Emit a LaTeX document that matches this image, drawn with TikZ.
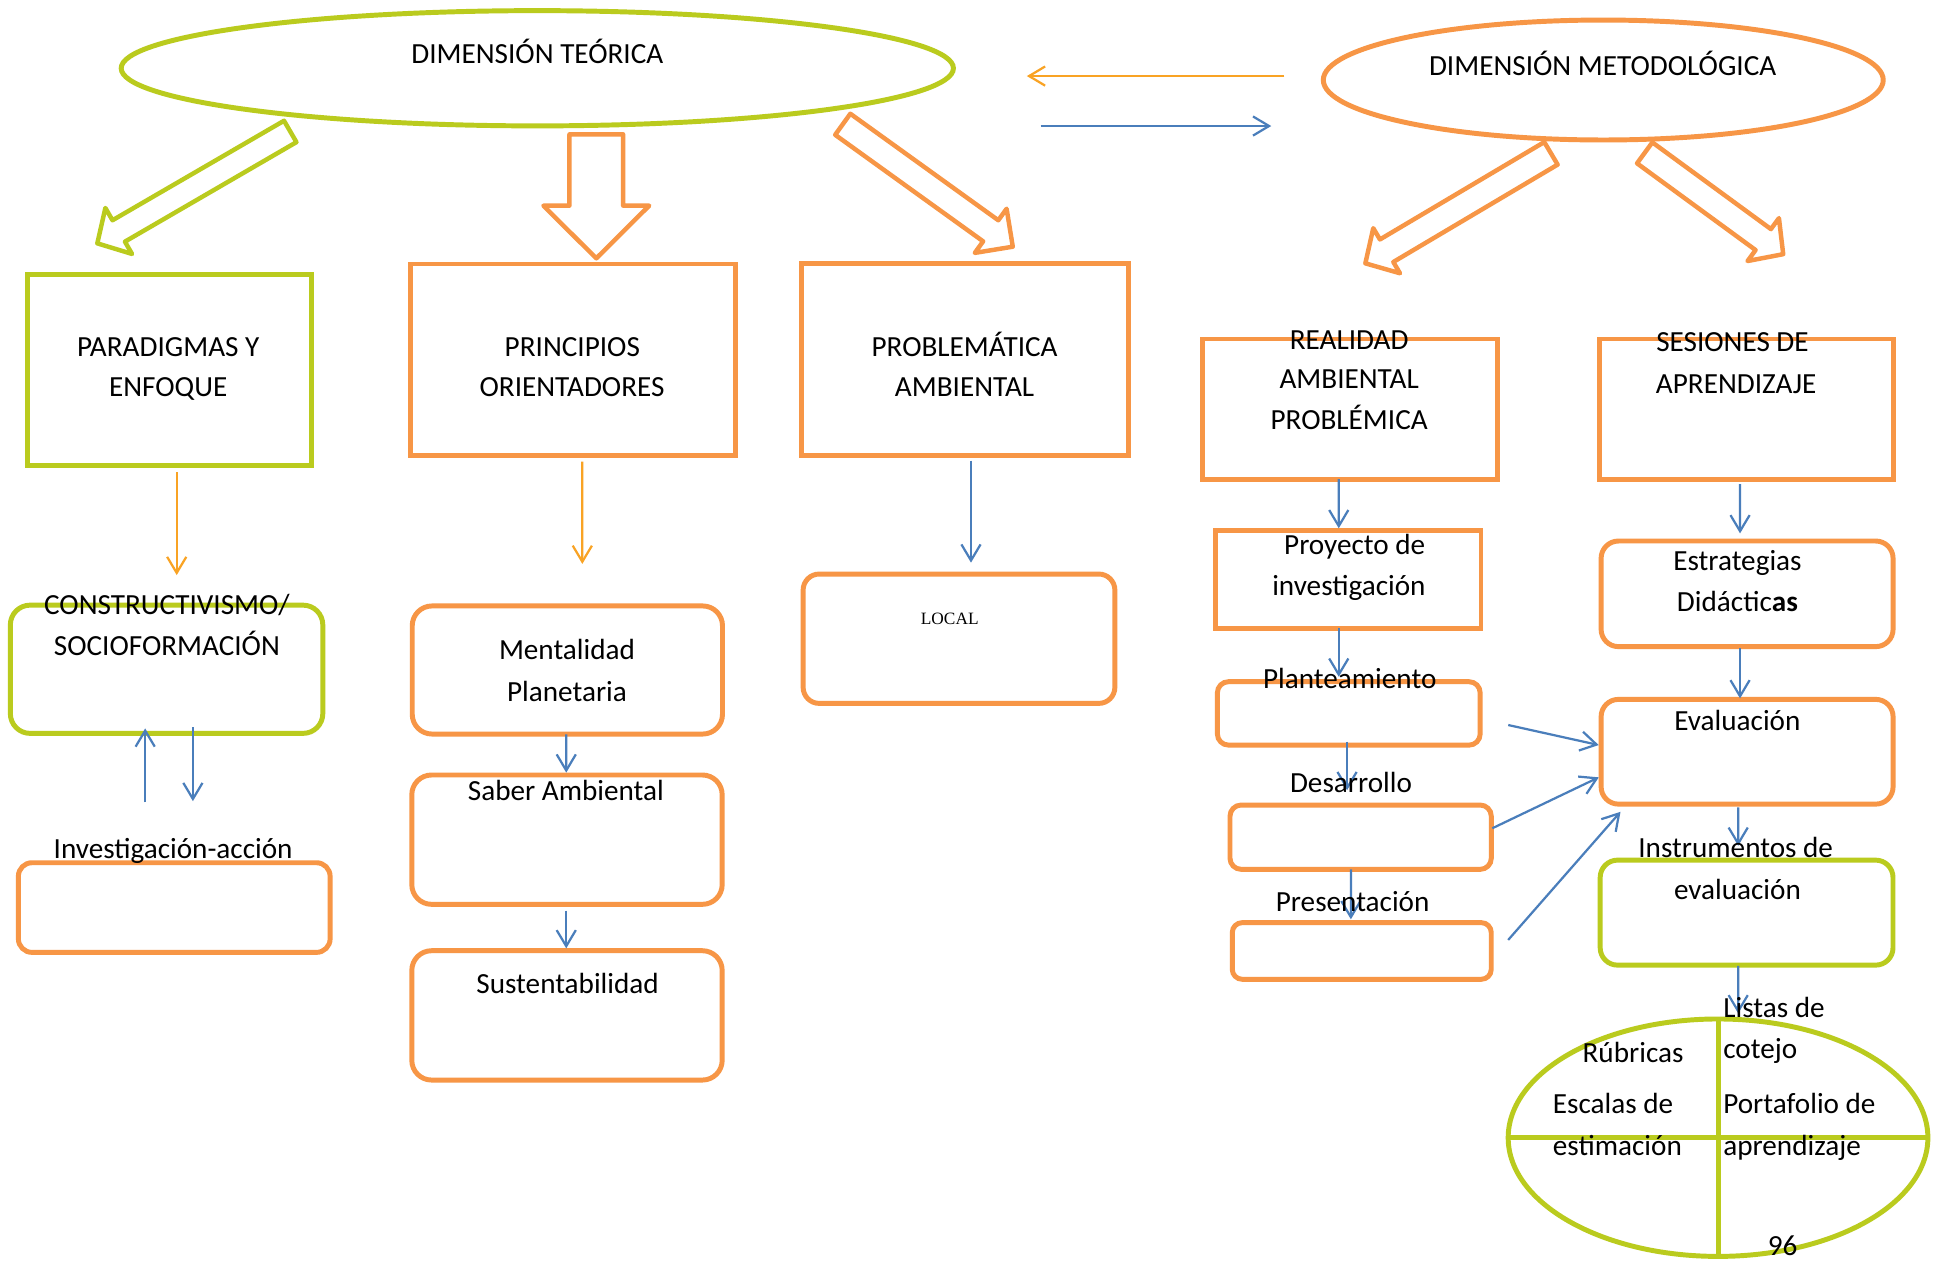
\documentclass[tikz,border=0pt]{standalone}
\usepackage{fontspec}
\setmainfont{Carlito}
\newfontfamily\timesface{Liberation Serif}
\usetikzlibrary{shapes.geometric,arrows.meta,calc}

\definecolor{mapgreen}{RGB}{186,203,30}
\definecolor{maporange}{RGB}{247,150,70}
\definecolor{mapamber}{RGB}{249,163,36}
\definecolor{mapblue}{RGB}{74,126,187}

% hollow block arrow: style, tail, tip, shaft half width, head half width, head length
\newcommand\hollowarrow[6]{%
  \coordinate (hA) at #2;
  \coordinate (hB) at #3;
  \coordinate (hH) at ($(hB)!#6!(hA)$);
  \draw[#1] ($(hA)!#4!90:(hB)$) -- ($(hH)!#4!-90:(hA)$) -- ($(hH)!#5!-90:(hA)$)
    -- (hB) -- ($(hH)!#5!90:(hA)$) -- ($(hH)!#4!90:(hA)$) -- ($(hA)!#4!-90:(hB)$) -- cycle;}

\begin{document}
\begin{tikzpicture}[x=1pt,y=-1pt,
  sqbox/.style={draw=#1,line width=4pt,outer sep=0pt,inner sep=0pt},
  rbox/.style={sqbox=#1,rounded corners=16pt},
  ovalbox/.style={ellipse,draw=#1,line width=4pt,outer sep=0pt,inner sep=0pt},
  txt/.style={anchor=base,inner sep=0pt,font=\fontsize{23.6}{33}\selectfont},
  link/.style={draw=#1,line width=1.8pt,-{Straight Barb[length=13pt,width=15.5pt]}},
  hollow/.style={draw=#1,line width=3.6pt,line join=round},
]
\useasboundingbox[fill=white] (0,0) rectangle (1568,1019.7);

% ---- the two dimensions
\node[ovalbox=mapgreen,minimum width=673pt,minimum height=93.2pt] (teo) at (434.5,55.2) {};
\node[ovalbox=maporange,minimum width=452.8pt,minimum height=97pt] (met) at (1296.5,64.7) {};

% ---- first level boxes
\node[sqbox=mapgreen,minimum width=230.1pt,minimum height=155pt] (para) at (137,299.1) {};
\node[sqbox=maporange,minimum width=262.9pt,minimum height=155.2pt] (princ) at (463.5,291.1) {};
\node[sqbox=maporange,minimum width=264pt,minimum height=155pt] (probl) at (780.2,290.5) {};
\node[sqbox=maporange,minimum width=238pt,minimum height=113.3pt] (real) at (1091.6,330.8) {};
\node[sqbox=maporange,minimum width=237.3pt,minimum height=113.3pt] (ses) at (1412.2,330.8) {};

% ---- lower boxes
\node[rbox=mapgreen,minimum width=252.7pt,minimum height=103.7pt] (constr) at (134.7,541.2) {};
\node[rbox=maporange,rounded corners=11pt,minimum width=252.1pt,minimum height=72.5pt] (inv) at (140.9,733.9) {};
\node[rbox=maporange,minimum width=250.9pt,minimum height=103.6pt] (ment) at (458.8,541.8) {};
\node[rbox=maporange,minimum width=251pt,minimum height=104.6pt] (saber) at (458.5,679) {};
\node[rbox=maporange,minimum width=251pt,minimum height=104.6pt] (sust) at (458.5,821.1) {};
\node[rbox=maporange,rounded corners=13pt,minimum width=252.1pt,minimum height=104.6pt] (local) at (775.5,516.5) {};
\node[sqbox=maporange,minimum width=214.8pt,minimum height=79pt] (proy) at (1090.2,468.6) {};
\node[rbox=maporange,rounded corners=9pt,minimum width=212.5pt,minimum height=51.3pt] (plan) at (1090.7,576.9) {};
\node[rbox=maporange,rounded corners=9pt,minimum width=211.3pt,minimum height=52pt] (desa) at (1100.3,677) {};
\node[rbox=maporange,rounded corners=8pt,minimum width=209.4pt,minimum height=45.8pt] (pres) at (1101.2,769) {};
\node[rbox=maporange,rounded corners=14pt,minimum width=236.1pt,minimum height=85.4pt] (estr) at (1412.8,480.2) {};
\node[rbox=maporange,rounded corners=14pt,minimum width=236.1pt,minimum height=84.7pt] (eval) at (1412.8,607.9) {};
\node[rbox=mapgreen,rounded corners=14pt,minimum width=236.8pt,minimum height=84.9pt] (inst) at (1412.4,738) {};

% ---- quartered oval of instruments
\node[ovalbox=mapgreen,minimum width=339.4pt,minimum height=192pt] (eva) at (1389.3,920) {};
\draw[mapgreen,line width=4pt] (eva.north) -- (eva.south);
\draw[mapgreen,line width=4pt] (eva.west) -- (eva.east);

% ---- hollow block arrows
\hollowarrow{hollow=mapgreen}{($(teo.south)+(-199.8,4.5)$)}{($(para.north)+(-58.3,-24.8)$)}{10pt}{21.5pt}{20pt}
\hollowarrow{hollow=maporange}{($(teo.south)+(47.7,6.8)$)}{($(princ.north)+(18.7,-4.6)$)}{21.7pt}{42.8pt}{42.6pt}
\hollowarrow{hollow=maporange}{($(teo.south)+(247,-1.3)$)}{($(probl.north)+(38.8,-13.5)$)}{10.5pt}{22pt}{22pt}
\hollowarrow{hollow=maporange}{($(met.south)+(-42.3,10.8)$)}{($(real.north)+(12.5,-61.2)$)}{10.6pt}{21.2pt}{20pt}
\hollowarrow{hollow=maporange}{($(met.south)+(33.5,10.4)$)}{($(ses.north)+(29.8,-68.6)$)}{10.5pt}{21.5pt}{20pt}

% ---- links between the dimensions
\draw[link=mapamber] ($(met.west)+(-31.5,-3.2)$) -- ($(teo.east)+(59.4,6.3)$);
\draw[link=mapblue] ($(teo.east)+(70.6,46.7)$) -- ($(met.west)+(-42.1,37.2)$);

% ---- thin connectors
\draw[link=mapamber] ($(para.south)+(5.9,5.4)$) -- ($(constr.north)+(8.2,-24.3)$);
\draw[link=mapamber] ($(princ.south)+(7.4,4.6)$) -- ($(ment.north)+(12.1,-34)$);
\draw[link=mapblue] ($(probl.south)+(5,4.5)$) -- ($(local.north)+(9.7,-9.2)$);
\draw[link=mapblue] ($(inv.north)+(-23.5,-48.8)$) -- ($(constr.south)+(-17.3,-4)$);
\draw[link=mapblue] ($(constr.south)+(21.3,-4.8)$) -- ($(inv.north)+(15.1,-49.8)$);
\draw[link=mapblue] ($(ment.south)+(-0.9,0.2)$) -- ($(saber.north)+(-0.6,-1.9)$);
\draw[link=mapblue] ($(saber.south)+(-0.6,5.1)$) -- ($(sust.north)+(-0.6,-1.9)$);
\draw[link=mapblue] ($(real.south)+(-9,0)$) -- ($(proy.north)+(-7.6,-1.9)$);
\draw[link=mapblue] ($(proy.south)+(-7.6,0)$) -- ($(plan.north)+(-8.1,-4)$);
\draw[link=mapblue] ($(plan.south)+(-1.4,-2.8)$) -- ($(desa.north)+(-11,-12)$);
\draw[link=mapblue] ($(desa.south)+(-7.9,0)$) -- ($(pres.north)+(-8.8,-2.7)$);
\draw[link=mapblue] ($(ses.south)+(-5.1,4)$) -- ($(estr.north)+(-5.7,-6.2)$);
\draw[link=mapblue] ($(estr.south)+(-5.7,1.4)$) -- ($(eval.north)+(-5.7,-0.8)$);
\draw[link=mapblue] ($(eval.south)+(-7.2,2.7)$) -- ($(inst.north)+(-6.8,-11.6)$);
\draw[link=mapblue] ($(inst.south)+(-6.8,0.6)$) -- ($(eva.north)+(16.3,-4.5)$);
\draw[link=mapblue] ($(plan.east)+(22.7,9.4)$) -- ($(eval.west)+(-1.9,-5.4)$);
\draw[link=mapblue] ($(desa.east)+(0.8,-7.2)$) -- ($(eval.west)+(-1.9,20.7)$);
\draw[link=mapblue] ($(pres.east)+(13.7,-8.9)$) -- ($(eval.south west)+(15.7,6.2)$);

% ---- texts
\node[txt] (tteo) at (434.5,51.2) {DIMENSIÓN TEÓRICA};
\node[txt] (tmet) at (1296,60.7) {DIMENSIÓN METODOLÓGICA};
\node[txt] (tpara1) at (136,288) {PARADIGMAS Y};
\node[txt] (tpara2) at (136,320.8) {ENFOQUE};
\node[txt] (tprinc1) at (462.8,288) {PRINCIPIOS};
\node[txt] (tprinc2) at (462.6,320.8) {ORIENTADORES};
\node[txt] (tprobl1) at (780,288) {PROBLEMÁTICA};
\node[txt] (tprobl2) at (780,320.8) {AMBIENTAL};
\node[txt] (tconstr1) at (135,497) {CONSTRUCTIVISMO/};
\node[txt] (tconstr2) at (135,530) {SOCIOFORMACIÓN};
\node[txt] (tment1) at (458.5,533.7) {Mentalidad};
\node[txt] (tment2) at (458.5,567.4) {Planetaria};
\node[anchor=base,inner sep=0pt,font=\timesface\fontsize{14}{16}\selectfont] (tlocal) at (768,504.6) {LOCAL};
\node[txt] (tsaber) at (457.6,647) {Saber Ambiental};
\node[txt] (tsust) at (459,803.8) {Sustentabilidad};
\node[txt] (tinv) at (140,694) {Investigación-acción};
\node[txt] (treal1) at (1091,282.5) {REALIDAD};
\node[txt] (treal2) at (1091,314) {AMBIENTAL};
\node[txt] (treal3) at (1091,347.7) {PROBLÉMICA};
\node[txt] (tses1) at (1401,284.4) {SESIONES DE};
\node[txt] (tses2) at (1404,318) {APRENDIZAJE};
\node[txt] (tproy1) at (1095.5,448.8) {Proyecto de};
\node[txt] (tproy2) at (1090.8,481.7) {investigación};
\node[txt] (testr1) at (1405,461) {Estrategias};
\node[txt] (testr2) at (1405,494.6) {Didáctic\textbf{as}};
\node[txt] (tplan) at (1091.5,556.6) {Planteamiento};
\node[txt] (teval) at (1405,590.9) {Evaluación};
\node[txt] (tdesa) at (1092.5,641) {Desarrollo};
\node[txt] (tpres) at (1093.8,737.3) {Presentación};
\node[txt] (tinst1) at (1403.6,693.3) {Instrumentos de};
\node[txt] (tinst2) at (1405,727) {evaluación};
\node[txt,anchor=base west] (tlist1) at (1393.4,822.7) {Listas de};
\node[txt,anchor=base west] (tlist2) at (1393.4,855.8) {cotejo};
\node[txt] (trub) at (1320.6,859.4) {Rúbricas};
\node[txt,anchor=base west] (tesc1) at (1255.6,900.3) {Escalas de};
\node[txt,anchor=base west] (tesc2) at (1255.6,934) {estimación};
\node[txt,anchor=base west] (tport1) at (1393.4,900.3) {Portafolio de};
\node[txt,anchor=base west] (tport2) at (1393.4,934) {aprendizaje};
\node[txt] (tpage) at (1441.5,1014.9) {96};
\end{tikzpicture}
\end{document}
